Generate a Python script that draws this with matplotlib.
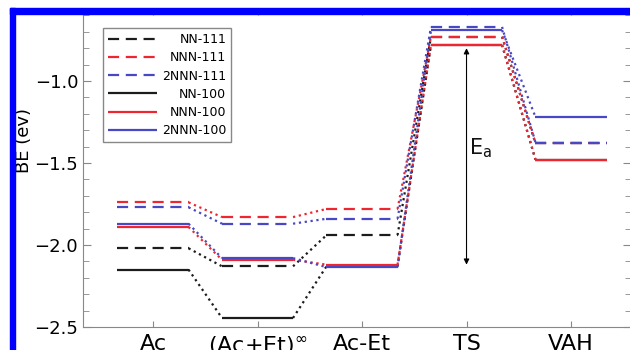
import matplotlib
matplotlib.use('Agg')
import matplotlib.pyplot as plt
from matplotlib.patches import Rectangle
from matplotlib.ticker import MultipleLocator

# states along the reaction path
states = ['Ac', r'(Ac+Et)$^\infty$', 'Ac-Et', 'TS', 'VAH']

# binding energies (eV)
nn_111 = [-2.02, -2.13, -1.94, -0.73, -1.38]
nnn_111 = [-1.74, -1.83, -1.78, -0.73, -1.38]
nnn2_111 = [-1.77, -1.87, -1.84, -0.67, -1.375]
nn_100 = [-2.15, -2.445, -2.13, -0.78, -1.48]
nnn_100 = [-1.89, -2.09, -2.12, -0.78, -1.48]
nnn2_100 = [-1.87, -2.08, -2.135, -0.69, -1.22]

labels = ['NN-111', 'NNN-111', '2NNN-111', 'NN-100', 'NNN-100', '2NNN-100']

black = '#1c1c1c'
red = '#ee2630'
blue = '#4848c4'

series = [
    (nn_111, black, (0, (5, 3))),
    (nnn_111, red, (0, (5, 3))),
    (nnn2_111, blue, (0, (5, 3))),
    (nn_100, black, '-'),
    (nnn_100, red, '-'),
    (nnn2_100, blue, '-'),
]

fig = plt.figure(figsize=(6.3, 3.5), dpi=100)
ax = fig.add_axes([83 / 630, 23 / 350, 548 / 630, 318 / 350])

w = 0.34
xs = list(range(1, len(states) + 1))
handles = []
for (vals, col, ls), lab in zip(series, labels):
    # level bars
    for i, (x, v) in enumerate(zip(xs, vals)):
        h, = ax.plot([x - w, x + w], [v, v], color=col, ls=ls, lw=1.6,
                     solid_capstyle='butt')
        if i == 0:
            handles.append(h)
    # dotted connectors between levels
    for i in range(len(xs) - 1):
        ax.plot([xs[i] + w, xs[i + 1] - w], [vals[i], vals[i + 1]],
                color=col, ls=':', lw=1.6)

# activation energy arrow
ea_top = nn_100[3]
ea_bot = nnn_100[2]
ax.annotate('', xy=(xs[3], ea_top - 0.02), xytext=(xs[3], ea_bot),
            arrowprops=dict(arrowstyle='<|-|>', color='k', lw=0.8,
                            mutation_scale=8, shrinkA=0, shrinkB=0))
ax.text(xs[3] + 0.02, -1.41, r'E$_\mathregular{a}$', fontsize=15,
        ha='left', va='center', color='#111111')

ax.set_xlim(0.33, 5.574)
ax.set_ylim(-2.5, -2.5 + 318 / 164)
ax.set_xticks(xs)
ax.set_xticklabels(states, fontsize=16)
ax.yaxis.set_minor_locator(MultipleLocator(0.1))
ax.set_yticks([-2.5, -2.0, -1.5, -1.0])
ax.tick_params(axis='y', which='major', labelsize=13, direction='in',
               length=6, color='#888888', right=True)
ax.tick_params(axis='y', which='minor', direction='in', length=4,
               color='#888888', right=True)
ax.tick_params(axis='x', direction='in', length=4, color='#888888',
               top=True, pad=5)
for s in ax.spines.values():
    s.set_color('#888888')

ax.set_ylabel('BE (ev)', fontsize=13)
ax.yaxis.set_label_coords(-0.092, 0.587)

leg = ax.legend(handles, labels, loc='upper left',
                bbox_to_anchor=(0.0365, 0.94), borderaxespad=0,
                fontsize=9, labelspacing=0.42, handlelength=3.9,
                handletextpad=0.4, fancybox=False, edgecolor='#888888',
                framealpha=1)
leg.get_frame().set_linewidth(1.0)

# right align legend texts
fig.canvas.draw()
texts = leg.get_texts()
renderer = fig.canvas.get_renderer()
widths = [t.get_window_extent(renderer).width for t in texts]
wmax = max(widths)
for t, tw in zip(texts, widths):
    t.set_position((wmax - tw, 0))

# blue frame on left and top
fig.patches.append(Rectangle((10 / 630, 0), 5 / 630, 1 - 8 / 350,
                             transform=fig.transFigure, color='#0000ff',
                             zorder=10))
fig.patches.append(Rectangle((10 / 630, 1 - 14 / 350), 1, 6 / 350,
                             transform=fig.transFigure, color='#0000ff',
                             zorder=10))

fig.savefig('out.png', dpi=100)
